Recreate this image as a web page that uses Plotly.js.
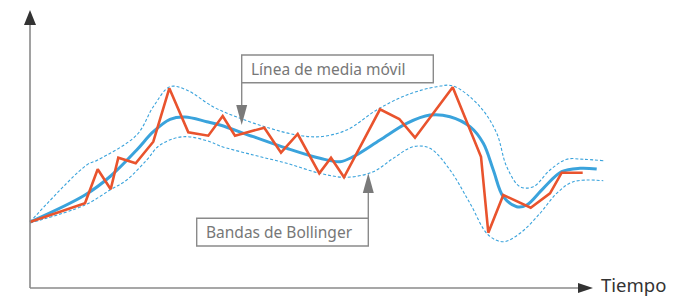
<!DOCTYPE html>
<html><head><meta charset="utf-8">
<script src="https://cdn.plot.ly/plotly-3.0.1.min.js"></script>
<style>html,body{margin:0;padding:0;background:#fff}#c{width:674px;height:298px}</style>
</head><body><div id="c"></div>
<script>
// Price series (orange)
const priceTime = [30,85,97.7,110.7,118.3,135.7,153.3,169.3,188.3,208.3,222.7,235,264.3,281,297.7,319.3,331,344,380,399.3,415,452.7,481,488.3,503.3,530.7,550,561.7,582.7];
const priceValue = [76,94.7,128.7,108.7,140.3,134.7,156.3,209.7,165.7,162.3,182,162.3,170.3,145.3,164,124.7,140.3,120.7,188.7,179,160.3,210.7,141.3,65.3,103,90.3,104.7,125.3,125.3];
// Moving average (blue)
const maTime = [30,85,110.7,136.7,153.3,170,185,206.7,220,253.3,286.7,320,340,353.3,380,406.7,430,450,470,483.3,493.3,503.3,516.7,526.7,543.3,561.7,580,596.7];
const maValue = [76,103,122,148,166.3,178.7,181,176.3,173,161.3,149.7,139.7,136.3,141.3,158,174.7,183,181.3,171.3,154.7,128,101.3,91.3,93,109.7,126.3,129.7,129];
// Upper Bollinger band
const upTime = [30,86.7,97.7,136.7,153.3,170,186.7,213,240,270,296.7,320,346.7,376.7,406.7,436.7,453.3,480,496.7,506.7,520,533.3,550,566.7,583.3,603.3];
const upValue = [76,133,138,163,191.3,211.3,208,191.3,179.7,169.7,163,161.3,168,188,203,211.3,212,191.3,164.7,131.3,111.3,111.3,128,138.7,138.7,137.3];
// Lower Bollinger band
const lowTime = [30,85,110,126.7,146.7,160,183.3,210,220,253.3,286.7,320,346.7,373.3,393.3,413.3,430,450,470,488.3,503.3,520,540,556.7,573.3,603.3];
const lowValue = [75,93,108,118,138,153,161.3,156.3,152,143,134.7,124.7,120.7,126.3,139.7,151.3,149.7,128,94.7,63,56.3,64.7,84.7,104.7,116.3,117.3];

const labelMA = "Línea de media móvil";
const labelBB = "Bandas de Bollinger";
const labelX = "Tiempo";

const blue = "#3aa3dc", orange = "#e9532d", gray = "#8a8a8a", dark = "#333333";
const font = "Noto Sans, Open Sans, sans-serif";

const traces = [
  {x: upTime, y: upValue, mode: "lines", line: {color: blue, width: 1.1, dash: "3px,2px", shape: "spline", smoothing: 1}, hoverinfo: "skip"},
  {x: lowTime, y: lowValue, mode: "lines", line: {color: blue, width: 1.1, dash: "3px,2px", shape: "spline", smoothing: 1}, hoverinfo: "skip"},
  {x: maTime, y: maValue, mode: "lines", line: {color: blue, width: 3, shape: "spline", smoothing: 1}, hoverinfo: "skip"},
  {x: priceTime, y: priceValue, mode: "lines", line: {color: orange, width: 2.6}, hoverinfo: "skip"}
];

const shapes = [
  // axes
  {type: "line", xref: "x", yref: "y", x0: 30, x1: 30, y0: 10, y1: 274, line: {color: gray, width: 1.6}},
  {type: "line", xref: "x", yref: "y", x0: 30, x1: 579, y0: 10, y1: 10, line: {color: gray, width: 1.6}},
  {type: "path", xref: "x", yref: "y", path: "M 24 273 L 36 273 L 30 288 Z", fillcolor: dark, line: {width: 0}},
  {type: "path", xref: "x", yref: "y", path: "M 578 15 L 578 5 L 593 10 Z", fillcolor: dark, line: {width: 0}},
  // label boxes
  {type: "rect", xref: "x", yref: "y", x0: 241.7, x1: 433.3, y0: 215.3, y1: 243, fillcolor: "#fff", line: {color: gray, width: 1.4}},
  {type: "rect", xref: "x", yref: "y", x0: 196.7, x1: 368.3, y0: 52, y1: 79.7, fillcolor: "#fff", line: {color: gray, width: 1.4}},
  // pointers
  {type: "line", xref: "x", yref: "y", x0: 241.7, x1: 241.7, y0: 215.3, y1: 192, line: {color: gray, width: 1.4}},
  {type: "path", xref: "x", yref: "y", path: "M 236.2 193 L 247.2 193 L 241.7 173 Z", fillcolor: "#7a7a7a", line: {width: 0}},
  {type: "line", xref: "x", yref: "y", x0: 368.3, x1: 368.3, y0: 79.7, y1: 106, line: {color: gray, width: 1.4}},
  {type: "path", xref: "x", yref: "y", path: "M 362.8 105 L 373.8 105 L 368.3 124.7 Z", fillcolor: "#7a7a7a", line: {width: 0}}
];

const annotations = [
  {x: 249, y: 229.5, xref: "x", yref: "y", text: labelMA, showarrow: false, xanchor: "left", yanchor: "middle", font: {family: font, size: 15.5, color: "#777"}},
  {x: 204, y: 66, xref: "x", yref: "y", text: labelBB, showarrow: false, xanchor: "left", yanchor: "middle", font: {family: font, size: 15.5, color: "#777"}},
  {x: 600, y: 0.5, xref: "x", yref: "y", text: labelX, showarrow: false, xanchor: "left", yanchor: "bottom", borderpad: 0, font: {family: font, size: 18.5, color: dark}}
];

const layout = {
  width: 674, height: 298,
  margin: {l: 0, r: 0, t: 0, b: 0},
  paper_bgcolor: "#fff", plot_bgcolor: "#fff",
  showlegend: false,
  xaxis: {range: [0, 674], visible: false, fixedrange: true},
  yaxis: {range: [0, 298], visible: false, fixedrange: true},
  shapes: shapes,
  annotations: annotations
};

Plotly.newPlot("c", traces, layout, {staticPlot: true});
</script>
</body></html>
